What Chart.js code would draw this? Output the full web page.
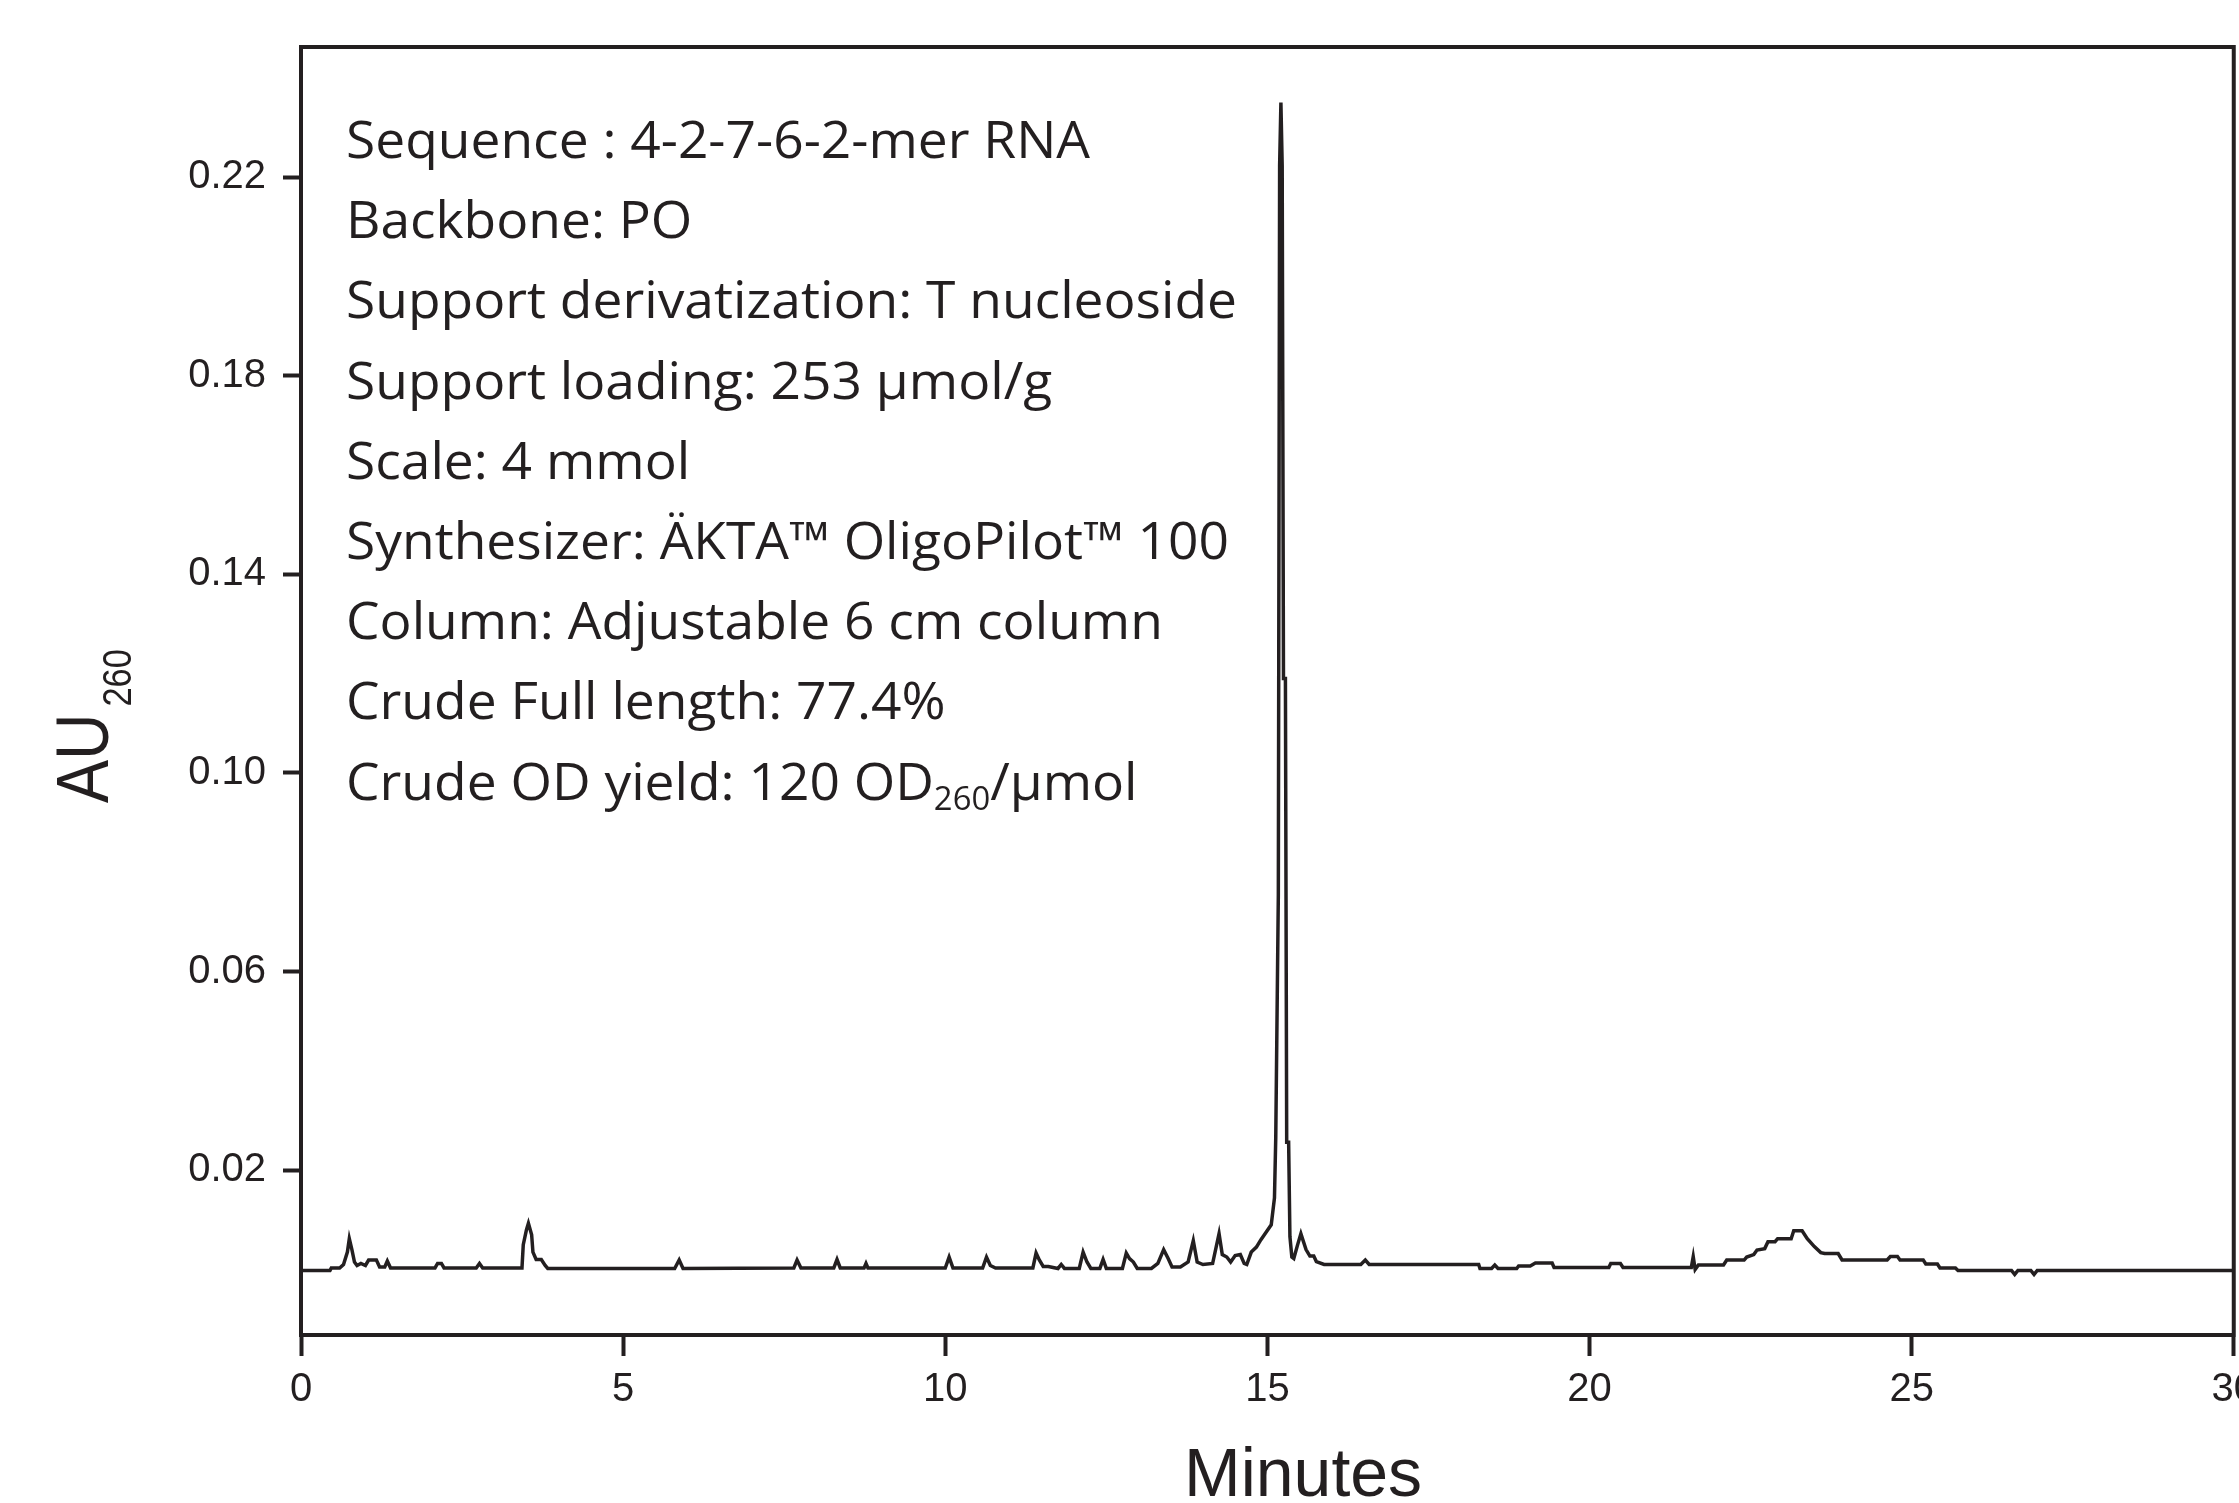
<!DOCTYPE html>
<html>
<head>
<meta charset="utf-8">
<script src="https://cdn.jsdelivr.net/npm/chart.js@4.4.0/dist/chart.umd.min.js"></script>
<style>
  html, body { margin: 0; padding: 0; background: #fff; overflow: hidden; }
  #wrap { position: absolute; left: 0; top: 0; width: 2266px; height: 1503px; }
</style>
</head>
<body>
<div id="wrap"><canvas id="chrom" width="2266" height="1503"></canvas></div>
<script>
// retention time (min) and absorbance
var minutes = [
  0, 0.45, 0.47, 0.60, 0.66, 0.72, 0.75, 0.79, 0.83, 0.87, 0.93, 1.00, 1.05, 1.17, 1.22, 1.30, 1.34, 1.39,
  2.08, 2.12, 2.18, 2.22, 2.72, 2.77, 2.82,
  3.43, 3.45, 3.50, 3.53, 3.58, 3.60, 3.65, 3.73, 3.79, 3.83,
  5.80, 5.87, 5.93,
  7.65, 7.70, 7.76, 8.27, 8.32, 8.37, 8.74, 8.77, 8.80,
  10.00, 10.06, 10.12, 10.58, 10.64, 10.70, 10.78,
  11.36, 11.41, 11.46, 11.52, 11.60, 11.75, 11.80, 11.85,
  12.08, 12.14, 12.20, 12.26, 12.40, 12.45, 12.50, 12.75, 12.81, 12.86, 12.92, 12.98,
  13.20, 13.30, 13.39, 13.46, 13.52, 13.65, 13.77, 13.85, 13.91, 14.00, 14.15, 14.25, 14.30, 14.37, 14.43,
  14.50, 14.58, 14.64, 14.68, 14.75, 14.83, 14.90, 14.98,
  15.06, 15.11, 15.13, 15.17, 15.19, 15.21, 15.23, 15.25, 15.28, 15.30, 15.33, 15.35, 15.38, 15.41,
  15.47, 15.52, 15.60, 15.66, 15.72, 15.76, 15.88, 15.93, 16.00,
  16.45, 16.52, 16.58, 18.28, 18.30, 18.48, 18.53, 18.58, 18.87, 18.90, 19.08, 19.16, 19.42, 19.45,
  20.30, 20.33, 20.48, 20.52, 21.58, 21.61, 21.64, 21.69, 22.08, 22.13, 22.40, 22.44, 22.55, 22.60, 22.72,
  22.77, 22.88, 22.92, 23.13, 23.17, 23.30, 23.38, 23.49, 23.59, 23.65, 23.86, 23.92,
  24.62, 24.67, 24.78, 24.82, 25.18, 25.22, 25.40, 25.44, 25.68, 25.72,
  26.55, 26.60, 26.65, 26.85, 26.90, 26.95, 30.00
];
var au260 = [
  -0.0002, -0.0002, 0.0003, 0.0003, 0.0010, 0.0035, 0.0062, 0.0040, 0.0015, 0.0008, 0.0012, 0.0008, 0.0019, 0.0019, 0.0005, 0.0005, 0.0017, 0.0003,
  0.0003, 0.0012, 0.0012, 0.0003, 0.0003, 0.0012, 0.0003,
  0.0003, 0.0050, 0.0080, 0.0093, 0.0070, 0.0035, 0.0020, 0.0020, 0.0008, 0.0002,
  0.0002, 0.0019, 0.0002,
  0.0003, 0.0019, 0.0003, 0.0003, 0.0020, 0.0003, 0.0003, 0.0012, 0.0003,
  0.0003, 0.0025, 0.0003, 0.0003, 0.0025, 0.0008, 0.0003,
  0.0003, 0.0033, 0.0019, 0.0006, 0.0006, 0.0002, 0.0010, 0.0002,
  0.0002, 0.0035, 0.0015, 0.0002, 0.0002, 0.0020, 0.0002, 0.0002, 0.0033, 0.0022, 0.0015, 0.0002,
  0.0002, 0.0012, 0.0040, 0.0022, 0.0005, 0.0005, 0.0015, 0.0058, 0.0015, 0.0010, 0.0012, 0.0072, 0.0030, 0.0025, 0.0015,
  0.0028, 0.0030, 0.0012, 0.0010, 0.0035, 0.0045, 0.0060, 0.0075,
  0.0090, 0.0144, 0.0265, 0.0754, 0.2223, 0.2350, 0.2223, 0.1190, 0.1190, 0.0256, 0.0256, 0.0066, 0.0025, 0.0022,
  0.0050, 0.0072, 0.0040, 0.0027, 0.0027, 0.0016, 0.0010, 0.0010, 0.0010,
  0.0010, 0.0019, 0.0010, 0.0010, 0.0002, 0.0002, 0.0009, 0.0002, 0.0002, 0.0007, 0.0007, 0.0013, 0.0013, 0.0004,
  0.0004, 0.0012, 0.0012, 0.0004, 0.0004, 0.0026, 0.0000, 0.0009, 0.0009, 0.0019, 0.0019, 0.0025, 0.0030, 0.0039, 0.0042,
  0.0056, 0.0056, 0.0062, 0.0062, 0.0078, 0.0078, 0.0062, 0.0046, 0.0034, 0.0032, 0.0032, 0.0019,
  0.0019, 0.0026, 0.0026, 0.0019, 0.0019, 0.0011, 0.0011, 0.0003, 0.0003, -0.0002,
  -0.0002, -0.0010, -0.0002, -0.0002, -0.0010, -0.0002, -0.0002
];
var xTicks = [0, 5, 10, 15, 20, 25, 30];
var yTicks = [0.02, 0.06, 0.10, 0.14, 0.18, 0.22];

// run conditions printed inside the plot, [text, isSubscript]
var infoLines = [
  [['Sequence : 4-2-7-6-2-mer RNA', false]],
  [['Backbone: PO', false]],
  [['Support derivatization: T nucleoside', false]],
  [['Support loading: 253 \u00b5mol/g', false]],
  [['Scale: 4 mmol', false]],
  [['Synthesizer: \u00c4KTA\u2122 OligoPilot\u2122 100', false]],
  [['Column: Adjustable 6 cm column', false]],
  [['Crude Full length: 77.4%', false]],
  [['Crude OD yield: 120 OD', false], ['260', true], ['/\u00b5mol', false]]
];

var ink = '#231f20';

var points = minutes.map(function (t, i) {
  return { x: t, y: au260[i] };
});

function drawRuns(ctx, runs, x, y, size, sx) {
  ctx.save();
  ctx.translate(x, y);
  ctx.scale(sx, 1);
  var cx = 0;
  runs.forEach(function (r) {
    if (r[1]) {
      ctx.font = '500 ' + Math.round(size * 0.62) + 'px "Open Sans"';
      ctx.fillText(r[0], cx, size * 0.2);
    } else {
      ctx.font = '500 ' + size + 'px "Open Sans"';
      ctx.fillText(r[0], cx, 0);
    }
    cx += ctx.measureText(r[0]).width;
  });
  ctx.restore();
}

var decor = {
  id: 'decor',
  afterDraw: function (chart) {
    var ctx = chart.ctx;
    var a = chart.chartArea;
    ctx.save();

    // top and right edges of the frame
    ctx.strokeStyle = ink;
    ctx.lineWidth = 4;
    ctx.beginPath();
    ctx.moveTo(a.left - 2, a.top);
    ctx.lineTo(a.right, a.top);
    ctx.lineTo(a.right, a.bottom + 2);
    ctx.stroke();

    ctx.fillStyle = ink;
    ctx.textAlign = 'left';
    ctx.textBaseline = 'alphabetic';

    // info block
    var size = 52;
    ctx.font = '500 ' + size + 'px "Open Sans"';
    var longest = ctx.measureText(infoLines[2][0][0]).width;
    var sx = 891 / longest;
    infoLines.forEach(function (runs, i) {
      drawRuns(ctx, runs, 346, 158 + i * 80.2, size, sx);
    });

    // y title: AU with subscript 260
    ctx.save();
    ctx.translate(108, 803);
    ctx.rotate(-Math.PI / 2);
    ctx.scale(0.86, 1);
    ctx.font = '75px "Liberation Sans", Arial, sans-serif';
    ctx.fillText('AU', 0, 0);
    var wAU = ctx.measureText('AU').width;
    ctx.font = '40px "Liberation Sans", Arial, sans-serif';
    ctx.fillText('260', wAU + 8, 23);
    ctx.restore();

    // x title
    ctx.font = '68px "Liberation Sans", Arial, sans-serif';
    ctx.fillText('Minutes', 1184, 1496);

    ctx.restore();
  }
};

var tickFont = { family: '"Liberation Sans", Arial, sans-serif', size: 40 };

new Chart(document.getElementById('chrom'), {
  type: 'line',
  data: {
    datasets: [{
      data: points,
      borderColor: ink,
      borderWidth: 3.5,
      pointRadius: 0,
      tension: 0,
      fill: false
    }]
  },
  options: {
    responsive: false,
    animation: false,
    devicePixelRatio: 1,
    layout: { padding: { top: 47, right: 26, bottom: 0, left: 0 } },
    plugins: {
      legend: { display: false },
      tooltip: { enabled: false }
    },
    scales: {
      x: {
        type: 'linear',
        min: 0,
        max: 30,
        afterBuildTicks: function (s) {
          s.ticks = xTicks.map(function (v) { return { value: v }; });
        },
        afterFit: function (s) { s.height = 168; },
        grid: { drawOnChartArea: false, drawTicks: true, tickLength: 21, tickWidth: 4, tickColor: ink },
        border: { display: true, color: ink, width: 4 },
        ticks: { color: ink, font: tickFont, padding: 10, maxRotation: 0, autoSkip: false }
      },
      y: {
        type: 'linear',
        min: -0.0132,
        max: 0.2462,
        afterBuildTicks: function (s) {
          s.ticks = yTicks.map(function (v) { return { value: v }; });
        },
        afterFit: function (s) { s.width = 301; },
        grid: { drawOnChartArea: false, drawTicks: true, tickLength: 18, tickWidth: 4, tickColor: ink },
        border: { display: true, color: ink, width: 4 },
        ticks: {
          color: ink,
          font: tickFont,
          padding: 17,
          autoSkip: false,
          callback: function (v) { return v.toFixed(2); }
        }
      }
    }
  },
  plugins: [decor]
});
</script>
</body>
</html>
